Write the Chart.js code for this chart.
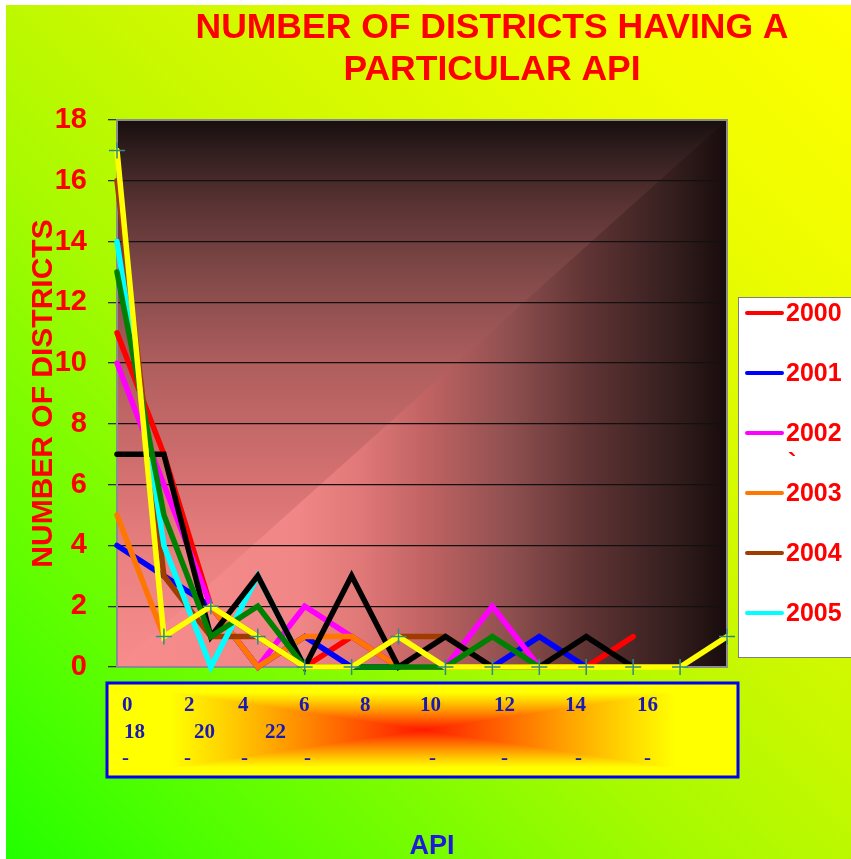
<!DOCTYPE html>
<html>
<head>
<meta charset="UTF-8">
<title>Number of districts having a particular API</title>
<script src="https://cdn.jsdelivr.net/npm/chart.js@4.4.1/dist/chart.umd.min.js"></script>
<style>
  html, body { margin: 0; padding: 0; background: #fff; }
  #wrap { width: 851px; height: 859px; }
</style>
</head>
<body>
<div id="wrap"><canvas id="apiChart" width="851" height="859"></canvas></div>
<script>
// categories along the x axis (14 API classes)
const categories = ['1', '2', '3', '4', '5', '6', '7', '8', '9', '10', '11', '12', '13', '14'];
// text shown in the x axis box
const boxLabels = ['0', '2', '4', '6', '8', '10', '12', '14', '16', '18', '20', '22'];

const years = ['2000', '2001', '2002', '2003', '2004', '2005', '2006', '2007', '2008'];
const y2000 = [11, 7, 2, 1, 0, 1, 0, 0, 0, 0, 0, 1];
const y2001 = [4, 3, 2, 0, 1, 0, 0, 0, 0, 1, 0];
const y2002 = [10, 6, 2, 0, 2, 1, 0, 0, 2, 0];
const y2003 = [5, 1, 2, 0, 1, 1, 0, 0, 0];
const y2004 = [16, 3, 1, 1, 0, 0, 1, 1, 0];
const y2005 = [14, 4, 0, 3, 0];
const y2006 = [7, 7, 1, 3, 0, 3, 0, 1, 0, 0, 1, 0];
const y2007 = [13, 5, 1, 2, 0, 0, 0, 0, 1, 0];
const y2008 = [17, 1, 2, 1, 0, 0, 1, 0, 0, 0, 0, 0, 0, 1];

const seriesData = [y2000, y2001, y2002, y2003, y2004, y2005, y2006, y2007, y2008];
const colors = ['#ff0000', '#0000ff', '#ff00ff', '#ff7700', '#a03c00', '#00ffff', '#000000', '#008000', '#ffff00'];
const legendCount = 6;

const SANS = '"Liberation Sans", Arial, sans-serif';
const SERIF = '"Liberation Serif", "Times New Roman", serif';

function gradStops(g, stops) {
    stops.forEach(s => g.addColorStop(s[0], s[1]));
    return g;
}
// same stops mirrored around the middle of the gradient
function mirrorStops(g, stops) {
    stops.forEach(s => {
        g.addColorStop(0.5 - s[0] / 2, s[1]);
        g.addColorStop(0.5 + s[0] / 2, s[1]);
    });
    return g;
}

// page background + plot area background
const backgroundPlugin = {
    id: 'backgrounds',
    beforeDraw(chart) {
        const ctx = chart.ctx;
        const W = chart.width, H = chart.height;
        ctx.save();
        ctx.fillStyle = '#ffffff';
        ctx.fillRect(0, 0, W, H);
        const pg = ctx.createLinearGradient(6, H, W, 5);
        gradStops(pg, [[0, '#22ff00'], [0.12, '#4cff00'], [0.4, '#a6fa00'], [0.55, '#c8f800'], [0.8, '#ecfc00'], [1, '#ffff00']]);
        ctx.fillStyle = pg;
        ctx.fillRect(6, 5, W - 6, H - 5);

        const a = chart.chartArea;
        const L = a.left, R = a.right, T = a.top, B = a.bottom;
        // whole area: horizontal shading
        const hg = ctx.createLinearGradient(L, 0, R, 0);
        gradStops(hg, [[0, '#f88c8c'], [0.3, '#f08686'], [0.4, '#e07878'], [0.51, '#c06262'],
            [0.64, '#905050'], [0.77, '#603434'], [0.9, '#382020'], [1, '#180c0c']]);
        ctx.fillStyle = hg;
        ctx.fillRect(L, T, R - L, B - T);
        // upper-left triangle: vertical shading
        ctx.save();
        ctx.beginPath();
        ctx.moveTo(L, B); ctx.lineTo(L, T); ctx.lineTo(R, T); ctx.closePath();
        ctx.clip();
        const vg = ctx.createLinearGradient(0, B, 0, T);
        gradStops(vg, [[0, '#f88c8c'], [0.2, '#ea8080'], [0.35, '#d47070'], [0.55, '#b05e5e'],
            [0.72, '#804848'], [0.85, '#583232'], [0.95, '#2e1c1c'], [1, '#180e0e']]);
        ctx.fillStyle = vg;
        ctx.fillRect(L, T, R - L, B - T);
        ctx.restore();
        ctx.restore();
    },
    beforeDatasetsDraw(chart) {
        const ctx = chart.ctx, a = chart.chartArea;
        ctx.save();
        ctx.strokeStyle = '#8c8c8c';
        ctx.lineWidth = 2;
        ctx.strokeRect(a.left, a.top, a.right - a.left, a.bottom - a.top);
        ctx.restore();
    }
};

// titles, legend and the x axis box
const decorPlugin = {
    id: 'decor',
    afterDraw(chart) {
        const ctx = chart.ctx;
        ctx.save();

        // main title
        ctx.fillStyle = '#ff0000';
        ctx.font = 'bold 35.5px ' + SANS;
        ctx.textAlign = 'center';
        ctx.textBaseline = 'alphabetic';
        ctx.fillText('NUMBER OF DISTRICTS HAVING A', 492, 38);
        ctx.fillText('PARTICULAR API', 492, 80);

        // legend
        ctx.fillStyle = '#ffffff';
        ctx.fillRect(738, 297, 120, 360);
        ctx.strokeStyle = '#7f7f7f';
        ctx.lineWidth = 1;
        ctx.strokeRect(738.5, 297.5, 120, 360);
        ctx.textAlign = 'left';
        ctx.textBaseline = 'middle';
        ctx.font = 'bold 25px ' + SANS;
        chart.data.datasets.slice(0, legendCount).forEach((ds, i) => {
            const cy = 313 + i * 60;
            ctx.strokeStyle = ds.borderColor;
            ctx.lineWidth = 4;
            ctx.lineCap = 'round';
            ctx.beginPath();
            ctx.moveTo(747, cy);
            ctx.lineTo(782, cy);
            ctx.stroke();
            ctx.fillStyle = '#ff0000';
            ctx.fillText(ds.label, 786, cy + 1);
        });
        ctx.textBaseline = 'top';
        ctx.fillText('`', 788, 452);

        // x axis box, shaded from its centre
        const bx = 107, by = 683, bw = 631, bh = 94;
        const cx = bx + bw / 2, cy = by + bh / 2;
        const stops = [[0, '#ff1a00'], [0.22, '#ff5a00'], [0.45, '#ffa000'], [0.65, '#ffd800'], [0.8, '#ffff00'], [1, '#ffff00']];
        ctx.fillStyle = mirrorStops(ctx.createLinearGradient(bx, 0, bx + bw, 0), stops);
        ctx.fillRect(bx, by, bw, bh);
        ctx.save();
        ctx.beginPath();
        ctx.moveTo(bx, by); ctx.lineTo(bx + bw, by); ctx.lineTo(cx, cy); ctx.closePath();
        ctx.moveTo(bx, by + bh); ctx.lineTo(bx + bw, by + bh); ctx.lineTo(cx, cy); ctx.closePath();
        ctx.clip();
        ctx.fillStyle = mirrorStops(ctx.createLinearGradient(0, by, 0, by + bh), stops);
        ctx.fillRect(bx, by, bw, bh);
        ctx.restore();
        ctx.strokeStyle = '#0000f0';
        ctx.lineWidth = 3;
        ctx.strokeRect(bx, by, bw, bh);

        ctx.fillStyle = '#1a1ab0';
        ctx.font = 'bold 21px ' + SERIF;
        ctx.textAlign = 'left';
        ctx.textBaseline = 'alphabetic';
        const row1X = [122, 184, 238, 299, 360, 420, 494, 565, 637];
        const row2X = [124, 194, 265];
        boxLabels.forEach((t, i) => {
            if (i < row1X.length) ctx.fillText(t, row1X[i], 711);
            else ctx.fillText(t, row2X[i - row1X.length], 738);
        });
        [122, 184, 241, 304, 429, 501, 575, 644].forEach(x => ctx.fillText('-', x, 764));

        // x axis title
        ctx.fillStyle = '#1c1cd8';
        ctx.font = 'bold 27px ' + SANS;
        ctx.textAlign = 'center';
        ctx.fillText('API', 432, 854);

        ctx.restore();
    }
};

const datasets = seriesData.map((d, i) => ({
    label: years[i],
    data: d,
    borderColor: colors[i],
    backgroundColor: colors[i],
    borderWidth: 5.5,
    borderCapStyle: 'round',
    tension: 0,
    fill: false,
    clip: false,
    order: seriesData.length - i,
    pointRadius: i === 8 ? 8 : 0,
    pointHoverRadius: 0,
    pointStyle: 'cross',
    pointBorderColor: '#2e8b8b',
    pointBackgroundColor: '#2e8b8b',
    pointBorderWidth: 1.5
}));

new Chart(document.getElementById('apiChart'), {
    type: 'line',
    data: { labels: categories, datasets: datasets },
    options: {
        responsive: false,
        animation: false,
        devicePixelRatio: 1,
        layout: { padding: { left: 0, top: 120, right: 124, bottom: 192 } },
        plugins: {
            legend: { display: false },
            title: { display: false },
            tooltip: { enabled: false }
        },
        scales: {
            x: { display: false, offset: false },
            y: {
                min: 0,
                max: 18,
                afterFit(scale) { scale.width = 117; },
                ticks: {
                    stepSize: 2,
                    color: '#ff0000',
                    padding: 21,
                    font: { family: SANS, size: 29, weight: 'bold' }
                },
                grid: {
                    color: '#151010',
                    lineWidth: 1.3,
                    tickLength: 9,
                    tickColor: '#333333'
                },
                border: { color: '#404040', width: 1.5 },
                title: {
                    display: true,
                    text: 'NUMBER OF DISTRICTS',
                    color: '#ff0000',
                    padding: { top: 26, bottom: 0 },
                    font: { family: SANS, size: 30, weight: 'bold' }
                }
            }
        }
    },
    plugins: [backgroundPlugin, decorPlugin]
});
</script>
</body>
</html>
